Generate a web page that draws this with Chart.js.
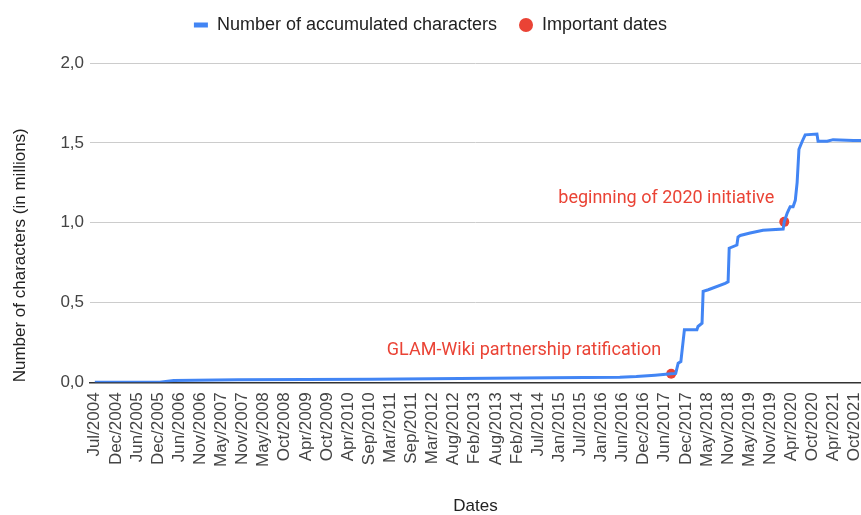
<!DOCTYPE html>
<html>
<head>
<meta charset="utf-8">
<script src="https://cdn.jsdelivr.net/npm/chart.js@4"></script>
<style>
  html, body { margin: 0; padding: 0; background: #fff; }
</style>
</head>
<body>
<canvas id="charsChart" width="861" height="515"></canvas>
<script>
// x-axis labels (evenly spaced from Jul/2004 to Oct/2021)
const tickLabels = ['Jul/2004', 'Dec/2004', 'Jun/2005', 'Dec/2005', 'Jun/2006', 'Nov/2006', 'May/2007',
  'Nov/2007', 'May/2008', 'Oct/2008', 'Apr/2009', 'Oct/2009', 'Apr/2010', 'Sep/2010', 'Mar/2011',
  'Sep/2011', 'Mar/2012', 'Aug/2012', 'Feb/2013', 'Aug/2013', 'Feb/2014', 'Jul/2014', 'Jan/2015',
  'Jul/2015', 'Jan/2016', 'Jun/2016', 'Dec/2016', 'Jun/2017', 'Dec/2017', 'May/2018', 'Nov/2018',
  'May/2019', 'Nov/2019', 'Apr/2020', 'Oct/2020', 'Apr/2021', 'Oct/2021'];

// accumulated characters (millions)
const charDates = ['2004-07-01', '2005-12-22', '2006-04-16', '2007-10-01', '2010-10-16', '2012-10-16',
  '2014-11-01', '2016-06-01', '2016-10-16', '2017-03-19', '2017-08-01', '2017-09-08', '2017-09-28',
  '2017-10-20', '2017-11-19', '2018-03-01', '2018-03-10', '2018-04-13', '2018-04-22', '2018-06-04',
  '2018-10-22', '2018-11-16', '2018-11-25', '2019-01-28', '2019-02-07', '2019-02-25', '2019-05-16',
  '2019-09-01', '2020-02-16', '2020-02-25', '2020-03-19', '2020-04-13', '2020-05-07', '2020-05-25',
  '2020-06-10', '2020-06-25', '2020-07-22', '2020-08-16', '2020-11-22', '2020-12-01', '2021-02-16',
  '2021-04-04', '2021-09-19', '2021-11-22'];
const charValues = [0.0, 0.001, 0.012, 0.016, 0.020, 0.024,
  0.028, 0.032, 0.036, 0.045, 0.054, 0.056, 0.12,
  0.13, 0.33, 0.33, 0.35, 0.37, 0.57, 0.58,
  0.62, 0.63, 0.84, 0.86, 0.91, 0.92, 0.935,
  0.953, 0.96, 1.005, 1.06, 1.10, 1.10, 1.14,
  1.25, 1.46, 1.51, 1.55, 1.555, 1.51, 1.51,
  1.52, 1.515, 1.515];

// important dates
const importantDates = ['2017-08-01', '2020-02-25'];
const importantValues = [0.054, 1.005];
const importantNotes = ['GLAM-Wiki partnership ratification', 'beginning of 2020 initiative'];

const BLUE = '#4285f4';
const RED = '#ea4335';
const AXIS_FONT = "'Liberation Sans', Arial, sans-serif";

// months since Jul 2004
function toMonths(s) {
    const [y, m, d] = s.split('-').map(Number);
    return (y - 2004) * 12 + (m - 7) + (d - 1) / 30;
}
const tickStep = toMonths('2021-10-01') / (tickLabels.length - 1);

const charPoints = charDates.map((d, i) => ({ x: toMonths(d), y: charValues[i] }));
const importantPoints = importantDates.map((d, i) => ({ x: toMonths(d), y: importantValues[i] }));

// red captions next to the important dates
const noteLabels = {
    id: 'noteLabels',
    afterDatasetsDraw(chart) {
        const ctx = chart.ctx;
        const meta = chart.getDatasetMeta(1);
        ctx.save();
        ctx.font = '18px Roboto';
        ctx.fillStyle = RED;
        ctx.textAlign = 'right';
        ctx.textBaseline = 'middle';
        meta.data.forEach((pt, i) => ctx.fillText(importantNotes[i], pt.x - 10, pt.y - 23));
        ctx.restore();
    }
};

// extra room under the legend
const legendGap = {
    id: 'legendGap',
    beforeInit(chart) {
        const fit = chart.legend.fit;
        chart.legend.fit = function () {
            fit.bind(chart.legend)();
            this.height += 19;
        };
    }
};

const ctx = document.getElementById('charsChart').getContext('2d');
const chart = new Chart(ctx, {
    type: 'line',
    data: {
        datasets: [{
            label: 'Number of accumulated characters',
            data: charPoints,
            borderColor: BLUE,
            backgroundColor: BLUE,
            borderWidth: 3,
            pointRadius: 0,
            tension: 0
        }, {
            label: 'Important dates',
            data: importantPoints,
            showLine: false,
            borderColor: RED,
            backgroundColor: RED,
            pointRadius: 5,
            pointBorderWidth: 0
        }]
    },
    options: {
        responsive: false,
        animation: false,
        layout: { autoPadding: false, padding: { top: -6, left: 0, right: 0, bottom: 0 } },
        plugins: {
            legend: {
                position: 'top',
                labels: {
                    usePointStyle: true,
                    pointStyleWidth: 14,
                    boxHeight: 10,
                    padding: 22,
                    color: '#222',
                    font: { family: AXIS_FONT, size: 18 },
                    generateLabels(c) {
                        const items = Chart.defaults.plugins.legend.labels.generateLabels(c);
                        items[0].pointStyle = 'line';
                        items[0].lineWidth = 5;
                        items[0].strokeStyle = BLUE;
                        items[1].pointStyle = 'circle';
                        items[1].lineWidth = 0;
                        items[1].fillStyle = RED;
                        return items;
                    }
                }
            },
            tooltip: { enabled: false }
        },
        scales: {
            x: {
                type: 'linear',
                min: -1.3,
                max: 208.7,
                grid: { display: true, drawOnChartArea: false, drawTicks: false },
                border: { display: true, color: '#333', width: 1.5 },
                afterBuildTicks(scale) {
                    scale.ticks = tickLabels.map((_, i) => ({ value: i * tickStep }));
                },
                afterFit(scale) {
                    scale.paddingRight = 0;
                    scale.paddingLeft = 0;
                },
                ticks: {
                    autoSkip: false,
                    minRotation: 90,
                    maxRotation: 90,
                    padding: 10,
                    color: '#444',
                    font: { family: AXIS_FONT, size: 17 },
                    callback: (v, i) => tickLabels[i]
                },
                title: {
                    display: true,
                    text: 'Dates',
                    color: '#222',
                    font: { family: AXIS_FONT, size: 17, lineHeight: 1 },
                    padding: { top: 21, bottom: 0 }
                }
            },
            y: {
                min: 0,
                max: 2,
                grid: { color: '#cccccc', lineWidth: 1, drawTicks: false },
                border: { display: false },
                ticks: {
                    stepSize: 0.5,
                    padding: 6,
                    color: '#444',
                    font: { family: AXIS_FONT, size: 17 },
                    callback: v => v.toFixed(1).replace('.', ',')
                },
                title: {
                    display: true,
                    text: 'Number of characters (in millions)',
                    align: 'start',
                    color: '#222',
                    font: { family: AXIS_FONT, size: 17 },
                    padding: { top: 10, bottom: 24 }
                }
            }
        }
    },
    plugins: [noteLabels, legendGap]
});
</script>
</body>
</html>
